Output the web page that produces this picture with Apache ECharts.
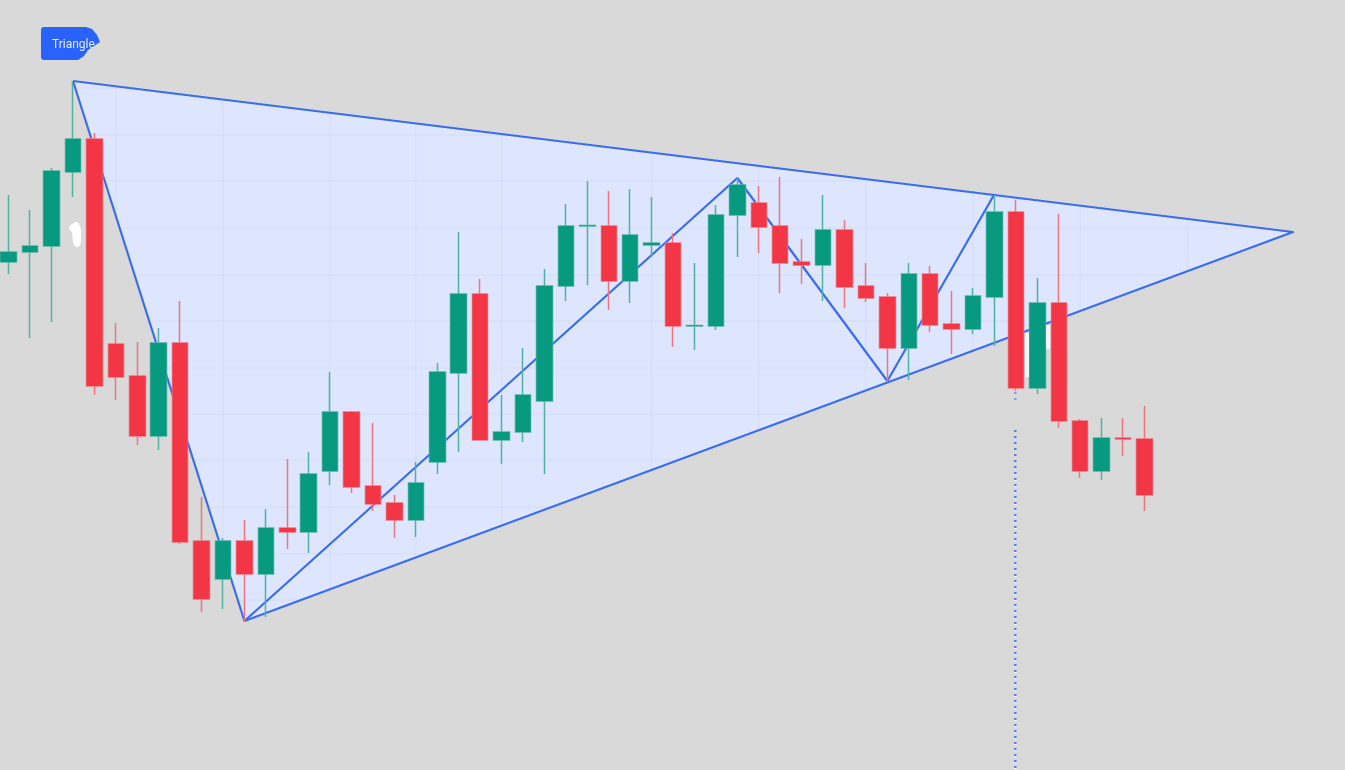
<!DOCTYPE html>
<html>
<head>
<meta charset="utf-8">
<title>Triangle</title>
<style>
  html, body { margin: 0; padding: 0; background: #d9d9d9; }
  #chart { width: 1345px; height: 770px; }
</style>
<script src="https://cdn.jsdelivr.net/npm/echarts@6/dist/echarts.min.js"></script>
</head>
<body>
<div id="chart"></div>
<script>
// candle values
var opens  = [508,518,524,598,631,426,394,334,427,229,191,229,196,242,238,299,358,284,267,250,308,397,476,330,338,369,484,544,544,489,525,527,444,444,555,567,544,508,505,540,484,473,422,496,446,441,473,558,382,467,349,299,332,331];
var closes = [518,524,599,631,384,393,334,427,228,171,229,196,242,238,296,358,283,266,250,287,398,476,330,338,375,484,544,544.5,489,535,527,444,444.5,555,585,543,507,505,540,483,472,422,496,445,441,474,558,382,467,349,299,332,331,275];
var lows   = [496,432,448,573,375,370,325,320,226,158,161,148,153,221,217,285,277,259,232,233,296,318,330,306,328,296,469,485,460,467,513,423,420,440,513,517,477,486,469,462,468,388,390,438,416,436,424,379,376,342,292,290,314,259];
var highs  = [575,560,602,689,637,447,428,442,469,273,232,250,261,311,318,398,359,347,275,308,407,538,491,375,422,501,566,589,579,581,573,537,507,565,593,584,593,531,575,550,507,477,507,504,479,482,575,570,492,556,351,352,352,364];
var categories = [];
for (var i = 0; i < 63; i++) categories.push(String(i + 1));

// pattern: triangle corners and the zigzag inside it
var triangleIdx = [3, 59.93, 11];
var triangleVal = [689, 538, 149];
var zigzagIdx = [3, 11, 34, 41, 46];
var zigzagVal = [689, 149, 592, 389, 576];

// faint grid, only seen inside the triangle
var gridIdx = [5, 10, 15, 19, 23, 30, 35, 40, 45, 50, 55];
var gridVal = [682, 635, 589, 542, 495, 449, 402, 356, 310, 263, 216, 170];

// dotted marker under the breakout candle
var markerIdx = 46.97;
var markerStub = [378, 370];
var markerLine = [340, 0];
var markerGlow = [300, 0];

var up = '#089981';
var upEdge = '#52b2a1';
var down = '#f23645';
var downEdge = '#ee7480';
var blue = '#3a6cf0';

// cut a straight line with the triangle, returns the two end points
function cutLine(pts, a, b) {
  var hits = [];
  for (var k = 0; k < 3; k++) {
    var p = pts[k], q = pts[(k + 1) % 3];
    var d = (q[0] - p[0]) * (b[1] - a[1]) - (q[1] - p[1]) * (b[0] - a[0]);
    if (!d) continue;
    var t = ((a[0] - p[0]) * (b[1] - a[1]) - (a[1] - p[1]) * (b[0] - a[0])) / d;
    if (t >= 0 && t <= 1) hits.push([p[0] + t * (q[0] - p[0]), p[1] + t * (q[1] - p[1])]);
  }
  return hits.length >= 2 ? hits : null;
}

function renderTriangle(params, api) {
  var pts = triangleIdx.map(function (x, k) { return api.coord([x, triangleVal[k]]); });
  var children = [{
    type: 'polygon',
    shape: { points: pts },
    style: { fill: '#dde6fe', stroke: null }
  }];
  function addGrid(a, b) {
    var hit = cutLine(pts, a, b);
    if (!hit) return;
    children.push({
      type: 'line',
      shape: { x1: hit[0][0], y1: hit[0][1], x2: hit[1][0], y2: hit[1][1] },
      style: { stroke: '#d4dcf5', lineWidth: 1 }
    });
  }
  gridIdx.forEach(function (x) {
    addGrid(api.coord([x, 0]), api.coord([x, 770]));
  });
  gridVal.forEach(function (y) {
    addGrid(api.coord([0, y]), api.coord([62, y]));
  });
  // open outline, the zigzag already draws the left leg
  children.push({
    type: 'polyline',
    shape: { points: pts },
    style: { fill: 'none', stroke: blue, lineWidth: 2.2, lineJoin: 'round' }
  });
  return { type: 'group', children: children };
}

var candles = opens.map(function (o, k) {
  return [o, closes[k], lows[k], highs[k]];
});
// bodies go on top without a wick, so the wicks can stay pale
var bodies = opens.map(function (o, k) {
  return [o, closes[k], Math.min(o, closes[k]), Math.max(o, closes[k])];
});

var chartDom = document.getElementById('chart');
var myChart = echarts.init(chartDom);
var option;

option = {
  animation: false,
  backgroundColor: '#d9d9d9',
  grid: { left: 8.7, top: 0, width: 1328.7, height: 770 },
  xAxis: [
    { type: 'category', data: categories, boundaryGap: false, show: false },
    // same span as the categories, the drawing tools are not tied to a candle
    { type: 'value', min: 0, max: 62, show: false, splitLine: { show: false } }
  ],
  yAxis: {
    type: 'value',
    min: 0,
    max: 770,
    show: false,
    splitLine: { show: false }
  },
  graphic: [
    // pattern label
    { type: 'rect', shape: { x: 41, y: 27, width: 38, height: 33, r: 3 }, style: { fill: '#2962ff' } },
    { type: 'polygon', shape: { points: [[76, 27], [86, 27], [92, 29], [97, 35], [100, 42], [94, 46], [88, 50], [84, 56], [78, 60], [76, 60]] }, style: { fill: '#2962ff' } },
    { type: 'text', x: 52, y: 39, style: { text: 'Triangle', fill: '#e3e9ff', font: '12px Roboto' } },
    // white smudges in the source picture
    { type: 'polygon', shape: { smooth: 0.4, points: [[76, 222], [69, 228], [72, 233], [73, 241], [76, 247], [80, 245], [81, 235], [80, 226]] }, style: { fill: '#ffffff' } },
    { type: 'rect', z: 10, shape: { x: 1025, y: 333, width: 4, height: 44 }, style: { fill: '#f4f6fb' } },
    { type: 'rect', z: 10, shape: { x: 1046, y: 325, width: 4, height: 24 }, style: { fill: '#f4f6fb' } }
  ],
  series: [
    {
      type: 'custom',
      coordinateSystem: 'cartesian2d',
      xAxisIndex: 1,
      renderItem: renderTriangle,
      data: [[0, 0]],
      clip: false,
      silent: true,
      z: 1
    },
    {
      type: 'line',
      xAxisIndex: 1,
      data: zigzagIdx.map(function (x, k) { return [x, zigzagVal[k]]; }),
      symbol: 'none',
      lineStyle: { color: blue, width: 2.2 },
      silent: true,
      z: 2
    },
    {
      type: 'line',
      xAxisIndex: 1,
      data: markerGlow.map(function (y) { return [markerIdx, y]; }),
      symbol: 'none',
      lineStyle: { color: '#f6f7fb', width: 2.5, type: [2, 4], dashOffset: 3 },
      silent: true,
      z: 2
    },
    {
      type: 'line',
      xAxisIndex: 1,
      data: markerLine.map(function (y) { return [markerIdx, y]; }),
      symbol: 'none',
      lineStyle: { color: '#4f82f0', width: 2.5, type: [2, 4] },
      silent: true,
      z: 2
    },
    {
      type: 'line',
      xAxisIndex: 1,
      data: markerStub.map(function (y) { return [markerIdx, y]; }),
      symbol: 'none',
      lineStyle: { color: '#7fa3f0', width: 2.5, type: [2, 4] },
      silent: true,
      z: 2
    },
    {
      type: 'candlestick',
      data: candles,
      barWidth: 16,
      clip: false,
      itemStyle: {
        color: up,
        color0: down,
        borderColor: upEdge,
        borderColor0: downEdge,
        borderWidth: 1.5
      },
      z: 3
    },
    {
      type: 'candlestick',
      data: bodies,
      barWidth: 16,
      clip: false,
      itemStyle: {
        color: up,
        color0: down,
        borderWidth: 0
      },
      z: 4
    }
  ]
};

option && myChart.setOption(option);
</script>
</body>
</html>
